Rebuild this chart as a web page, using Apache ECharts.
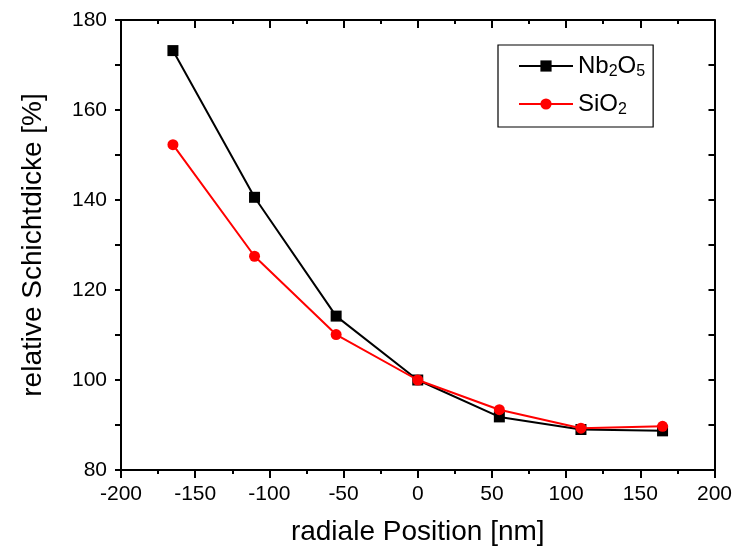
<!DOCTYPE html>
<html>
<head>
<meta charset="utf-8">
<script src="https://cdn.jsdelivr.net/npm/echarts@6/dist/echarts.min.js"></script>
<style>
  html, body { margin: 0; padding: 0; background: #fff; }
  #chart { width: 735px; height: 551px; }
</style>
</head>
<body>
<div id="chart"></div>
<script>
// Radial positions of the measurement points [nm]
const positions = [-165, -110, -55, 0, 55, 110, 165];
// Relative layer thickness [%]
const nb2o5 = [173.2, 140.6, 114.2, 100.0, 91.8, 89.0, 88.7];
const sio2  = [152.3, 127.5, 110.1, 100.0, 93.4, 89.3, 89.7];

const xTicks = { min: -200, max: 200, interval: 50 };
const yTicks = { min: 80, max: 180, interval: 20 };

const font = 'Liberation Sans, Arial, sans-serif';

const pairs = (xs, ys) => xs.map((x, i) => [x, ys[i]]);

const chart = echarts.init(document.getElementById('chart'), null, { renderer: 'canvas' });

const axisPen = { color: '#000', width: 2 };
const tickPen = { color: '#000', width: 2 };

function frameAxis(base, extra) {
  return Object.assign({
    type: 'value',
    min: base.min, max: base.max, interval: base.interval,
    axisLine: { show: true, onZero: false, lineStyle: axisPen },
    splitLine: { show: false },
    minorTick: { show: true, splitNumber: 2, length: 4, lineStyle: tickPen },
    axisTick: { show: true, length: 8, lineStyle: tickPen }
  }, extra);
}

chart.setOption({
  animation: false,
  backgroundColor: '#fff',
  grid: { left: 121, right: 18, top: 20, bottom: 81, containLabel: false },
  xAxis: [
    frameAxis(xTicks, {
      position: 'bottom',
      name: 'radiale Position [nm]',
      nameLocation: 'middle',
      nameGap: 48,
      nameTextStyle: { fontFamily: font, fontSize: 28, color: '#000' },
      axisLabel: { fontFamily: font, fontSize: 21, color: '#000', margin: 14 }
    }),
    frameAxis(xTicks, {
      position: 'top',
      axisLabel: { show: false },
      axisTick: { show: true, inside: true, length: 8, lineStyle: tickPen },
      minorTick: { show: true, splitNumber: 2, length: 4, lineStyle: tickPen }
    })
  ],
  yAxis: [
    frameAxis(yTicks, {
      position: 'left',
      name: 'relative Schichtdicke [%]',
      nameLocation: 'middle',
      nameGap: 74,
      nameTextStyle: { fontFamily: font, fontSize: 28, color: '#000' },
      axisLabel: { fontFamily: font, fontSize: 21, color: '#000', margin: 14 },
      axisTick: { show: true, length: 6, lineStyle: tickPen },
      minorTick: { show: true, splitNumber: 2, length: 6, lineStyle: tickPen }
    }),
    frameAxis(yTicks, {
      position: 'right',
      axisLabel: { show: false },
      axisTick: { show: true, inside: true, length: 6, lineStyle: tickPen },
      minorTick: { show: true, splitNumber: 2, length: 6, lineStyle: tickPen }
    })
  ],
  legend: {
    show: true,
    left: 498,
    top: 45,
    orient: 'vertical',
    padding: [9, 8, 9, 20],
    itemGap: 12,
    itemWidth: 54,
    itemHeight: 14,
    borderColor: '#000',
    borderWidth: 1.2,
    borderRadius: 0,
    backgroundColor: '#fff',
    data: ['Nb2O5', 'SiO2'],
    formatter: function (name) {
      if (name === 'Nb2O5') return 'Nb{s|2}O{s|5}';
      return 'SiO{s|2}';
    },
    textStyle: {
      fontFamily: font, fontSize: 24, color: '#000',
      rich: {
        s: { fontFamily: font, fontSize: 16, color: '#000', verticalAlign: 'bottom', padding: [12, 0, 0, 0] }
      }
    }
  },
  series: [
    {
      name: 'Nb2O5',
      type: 'line',
      xAxisIndex: 0, yAxisIndex: 0,
      data: pairs(positions, nb2o5),
      symbol: 'rect',
      symbolSize: 11,
      itemStyle: { color: '#000' },
      lineStyle: { color: '#000', width: 2 },
      z: 2
    },
    {
      name: 'SiO2',
      type: 'line',
      xAxisIndex: 0, yAxisIndex: 0,
      data: pairs(positions, sio2),
      symbol: 'circle',
      symbolSize: 11,
      itemStyle: { color: '#ff0000' },
      lineStyle: { color: '#ff0000', width: 2 },
      z: 3
    }
  ]
});
</script>
</body>
</html>
